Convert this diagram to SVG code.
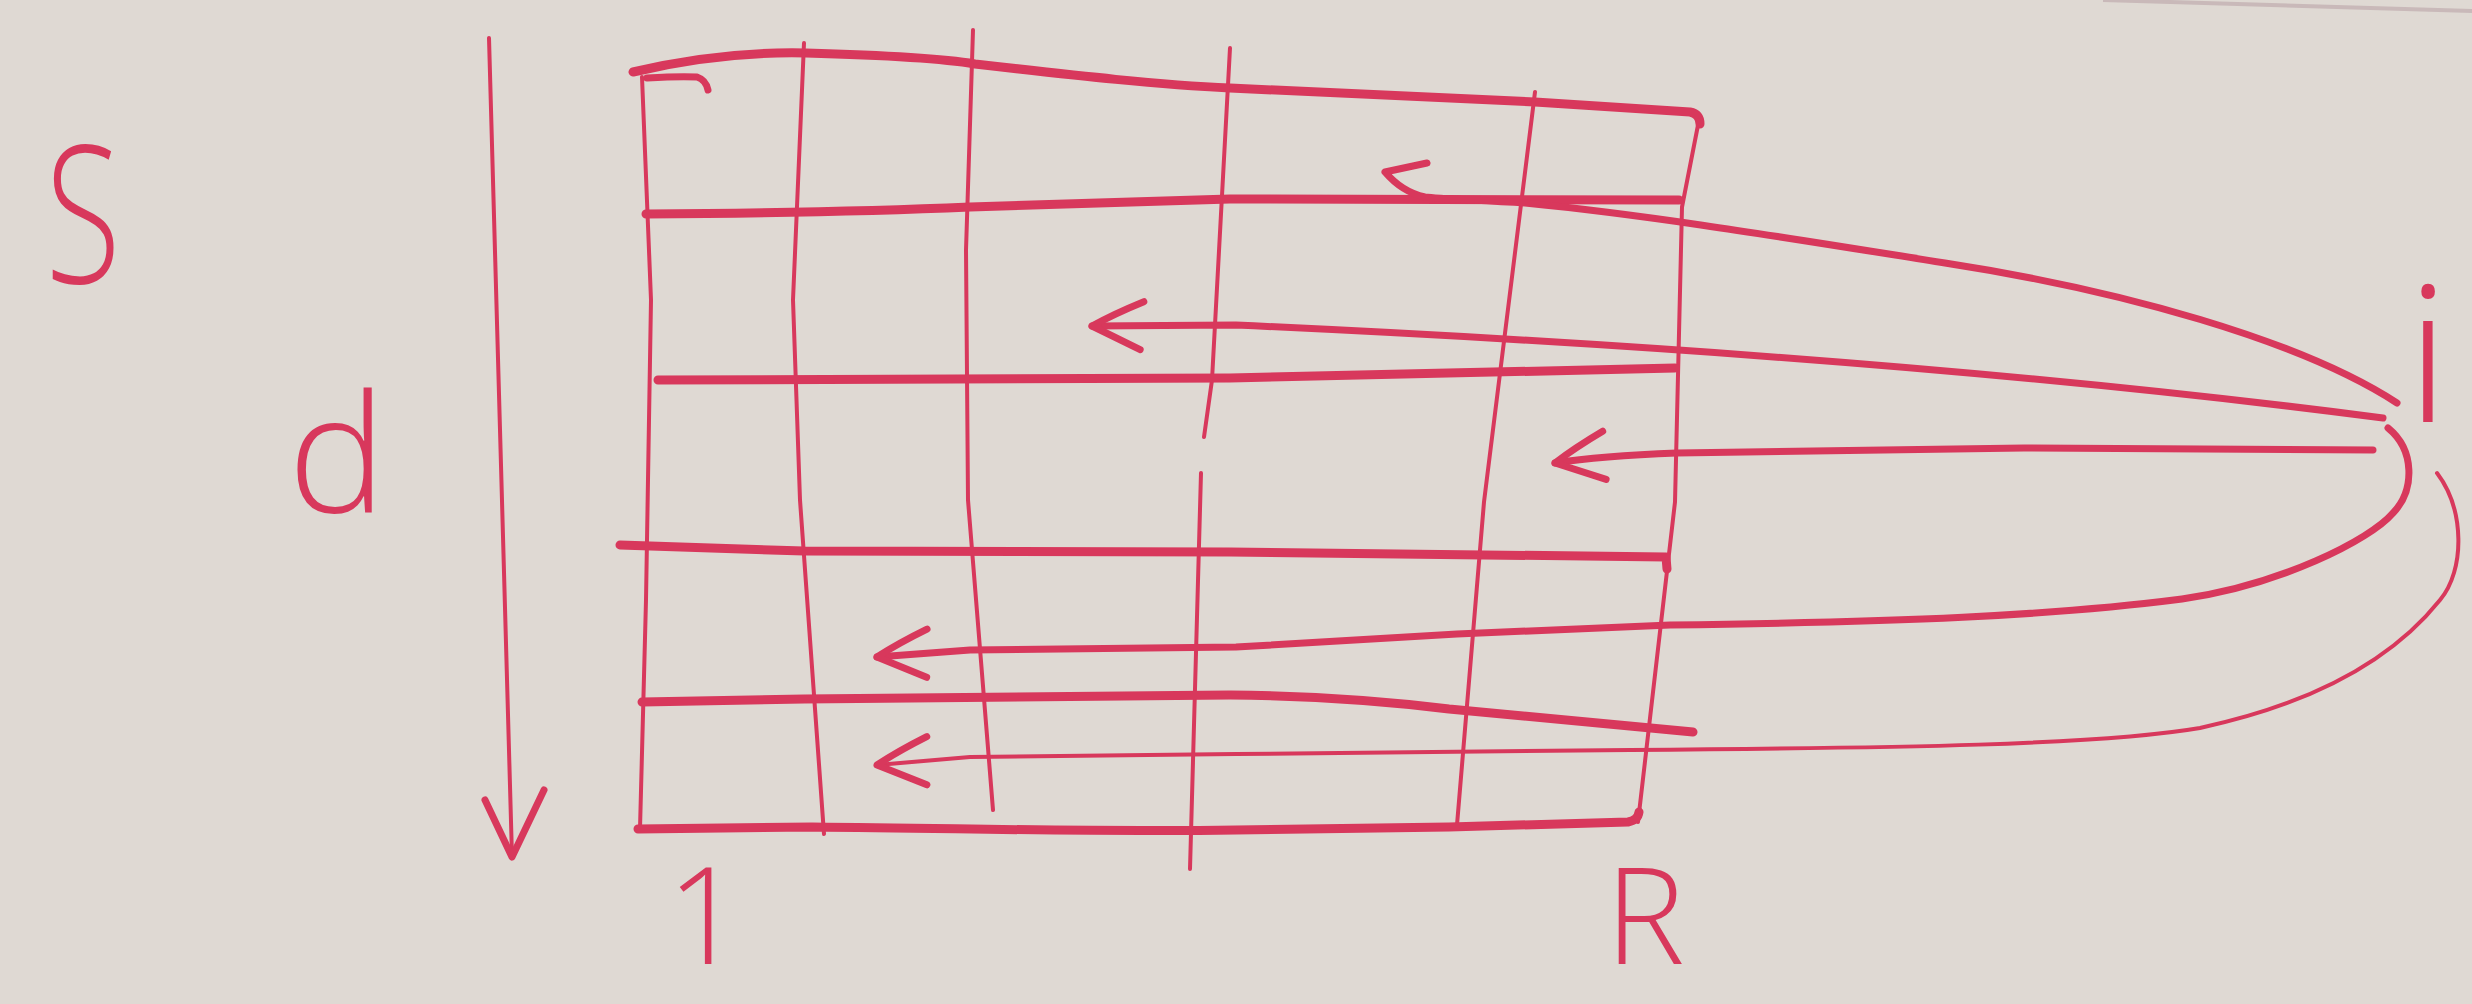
<svg xmlns="http://www.w3.org/2000/svg" width="2472" height="1004" viewBox="0 0 2472 1004">
<style>
.ink{fill:none;stroke:#d8385c;stroke-linecap:round;stroke-linejoin:round}
.thin{stroke-width:4}
.mid{stroke-width:7}
.thick{stroke-width:9}
.lbl{fill:#d8385c;font-family:"Open Sans","Lato","Liberation Sans",sans-serif;font-weight:300;text-anchor:middle}
</style>
<defs>
<marker id="hand" markerUnits="userSpaceOnUse" markerWidth="80" markerHeight="80" viewBox="-60 -40 70 80" refX="0" refY="0" orient="auto">
<path d="M-48,-24 Q-20,-10 0,0 Q-22,12 -52,24" fill="none" stroke="#d8385c" stroke-width="7" stroke-linecap="round" stroke-linejoin="round"/>
</marker>
</defs>
<rect width="2472" height="1004" fill="#dfd9d3"/>
<path d="M2103,0 L2472,11" fill="none" stroke="#c9b9b9" stroke-width="4"/>

<g id="grid">
<path class="ink thick" d="M633,72 C700,56 760,52 806,53 C880,55 940,58 975,64 C1080,76 1160,85 1230,88 L1535,102 L1690,112 Q1700,114 1700,124"/>
<path class="ink mid" d="M647,78 Q680,76 697,77 Q706,80 708,90"/>
<path class="ink thin" d="M642,77 L651,300 L646,600 L640,829"/>
<path class="ink thin" d="M804,43 L793,300 L800,500 L824,834"/>
<path class="ink thin" d="M973,30 L966,250 L968,500 L993,810"/>
<path class="ink thin" d="M1230,48 L1212,380 L1204,437 M1201,473 L1190,869"/>
<path class="ink thin" d="M1535,92 L1484,502 L1457,825"/>
<path class="ink thin" d="M1699,120 L1682,207 L1675,502 L1638,822"/>
<path class="ink thick" d="M646,214 C800,213 900,210 970,207 L1230,199 L1679,200"/>
<path class="ink thick" d="M658,380 L1230,378 L1675,368"/>
<path class="ink thick" d="M620,545 L804,551 L1230,552 L1666,557 L1667,569"/>
<path class="ink thick" d="M642,702 L804,699 L1230,695 C1330,696 1400,703 1449,709 L1693,732"/>
<path class="ink thick" d="M638,829 L812,827 C1000,829 1100,832 1236,830 L1449,827 L1628,822 Q1638,820 1639,812"/>
</g>

<g id="axis-arrow">
<path class="ink thin" d="M489,38 L512,857"/>
<path class="ink mid" d="M485,800 L512,857 L544,790"/>
</g>

<g id="label-S"><text class="lbl" transform="translate(83,283) scale(0.72,1)" font-size="192">S</text></g>
<g id="label-d"><text class="lbl" x="337" y="512" font-size="165">d</text></g>
<g id="label-1"><text class="lbl" x="705" y="964" font-size="134">1</text></g>
<g id="label-R"><text class="lbl" x="1645" y="964" font-size="134">R</text></g>
<g id="label-i"><text class="lbl" x="2428" y="422" font-size="190">i</text></g>

<g id="connectors">
<path class="ink mid" d="M2397,403 C2300,340 2120,290 1945,263 C1800,240 1650,215 1525,203 C1480,200 1440,199 1425,197 Q1402,192 1385,172 L1427,163"/>
<path class="ink mid" marker-end="url(#hand)" d="M2383,418 Q1900,355 1236,325 L1092,326"/>
<path class="ink mid" marker-end="url(#hand)" d="M2373,450 L2024,448 L1677,453 Q1600,456 1555,463"/>
<path class="ink mid" marker-end="url(#hand)" d="M2388,428 C2415,450 2415,490 2393,513 C2370,540 2280,585 2182,599 C2050,616 1900,622 1670,625 L1457,634 L1236,647 L970,650 L877,657"/>
<path class="ink thin" marker-end="url(#hand)" d="M2437,473 C2465,510 2465,570 2440,600 C2400,650 2330,700 2200,728 C2100,745 1900,748 1630,750 L1236,754 L970,757 L877,765"/>
</g>
</svg>
